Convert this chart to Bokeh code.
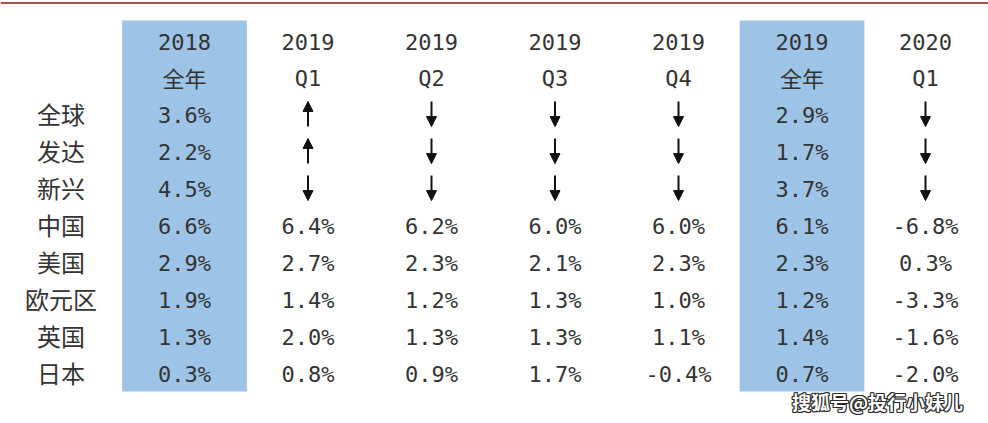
from bokeh.plotting import figure
from bokeh.models import Range1d, ColumnDataSource, Label, Span, Arrow, NormalHead
from bokeh.core.properties import value
from bokeh.embed import file_html
from bokeh.resources import INLINE

# ---------------- data ----------------
regions = ["全球", "发达", "新兴", "中国", "美国", "欧元区", "英国", "日本"]
head_year = ["2018", "2019", "2019", "2019", "2019", "2019", "2020"]
head_period = ["全年", "Q1", "Q2", "Q3", "Q4", "全年", "Q1"]
full_2018 = [3.6, 2.2, 4.5, 6.6, 2.9, 1.9, 1.3, 0.3]
q1_2019 = ["up", "up", "down", 6.4, 2.7, 1.4, 2.0, 0.8]
q2_2019 = ["down", "down", "down", 6.2, 2.3, 1.2, 1.3, 0.9]
q3_2019 = ["down", "down", "down", 6.0, 2.1, 1.3, 1.3, 1.7]
q4_2019 = ["down", "down", "down", 6.0, 2.3, 1.0, 1.1, -0.4]
full_2019 = [2.9, 1.7, 3.7, 6.1, 2.3, 1.2, 1.4, 0.7]
q1_2020 = ["down", "down", "down", -6.8, 0.3, -3.3, -1.6, -2.0]
columns = [full_2018, q1_2019, q2_2019, q3_2019, q4_2019, full_2019, q1_2020]
highlight_cols = [1, 6]   # 2018全年, 2019全年
watermark = "搜狐号@投行小妹儿"

# ---------------- layout ----------------
W, H = 988, 423
OX, OY = 0, 0
col_px, row_px = 123.5, 37.0
x0 = -(60.5 - OX) / col_px
x1 = x0 + W / col_px
ytop = -(115 - OY) / row_px
ybot = ytop + H / row_px

p = figure(width=W, height=H, x_range=Range1d(x0, x1), y_range=Range1d(ybot, ytop),
           output_backend="svg", toolbar_location=None, min_border=0,
           x_axis_location=None, y_axis_location=None,
           background_fill_color="white", border_fill_color="white")
p.grid.visible = False
p.outline_line_color = None

TXT = "#333333"
MONO = "DejaVu Sans Mono"
CJK = "Noto Sans CJK SC"
n = len(regions)

# highlighted columns
p.quad(left=[c - 0.505 for c in highlight_cols], right=[c + 0.505 for c in highlight_cols],
       top=[-2.57] * len(highlight_cols), bottom=[n - 1 + 0.46] * len(highlight_cols),
       fill_color="#9dc3e6", line_color=None)

# top red rule
p.add_layout(Span(location=ytop + 2.5 / row_px, dimension="width", line_color="#a05252", line_width=2))

# header
hx, hy, ht, hf, ho = [], [], [], [], []
for i, (yr, per) in enumerate(zip(head_year, head_period)):
    cjk = any(ord(ch) > 127 for ch in per)
    hx += [i + 1, i + 1]
    hy += [-2, -1]
    ht += [yr, per]
    hf += [MONO, CJK if cjk else MONO]
    ho += [0, -2 if cjk else 0]
p.text(x="x", y="y", text="t", text_font="f", y_offset="o",
       source=ColumnDataSource(dict(x=hx, y=hy, t=ht, f=hf, o=ho)),
       text_align="center", text_baseline="middle", text_font_size="22px", text_color=TXT)

# row labels
p.text(x=[0] * n, y=list(range(n)), text=regions, text_font=value(CJK), y_offset=-2,
       text_align="center", text_baseline="middle", text_font_size="24px", text_color=TXT)

# values and arrows
vx, vy, vt = [], [], []
ax, ays, aye = [], [], []
for ci, col in enumerate(columns):
    for r, v in enumerate(col):
        if isinstance(v, str):
            ax.append(ci + 1)
            if v == "up":
                ays.append(r + 0.30); aye.append(r - 0.38)
            else:
                ays.append(r - 0.38); aye.append(r + 0.30)
        else:
            vx.append(ci + 1); vy.append(r); vt.append(f"{v:.1f}%")
p.text(x=vx, y=vy, text=vt, text_font=value(MONO), text_align="center",
       text_baseline="middle", text_font_size="22px", text_color=TXT)
asrc = ColumnDataSource(dict(x=ax, ys=ays, ye=aye))
p.add_layout(Arrow(end=NormalHead(size=10, fill_color="#111111", line_color="#111111"),
                   x_start="x", y_start="ys", x_end="x", y_end="ye", source=asrc,
                   line_width=2, line_color="#111111"))

# watermark (white text with dark outline)
WX, WY = 877, H - 401
for dx, dy in [(-1, -1), (-1, 1), (1, -1), (1, 1), (0, -1), (0, 1), (-1, 0), (1, 0)]:
    p.add_layout(Label(x=WX, y=WY, x_units="screen", y_units="screen", text=watermark,
                       x_offset=dx, y_offset=dy, text_align="center", text_baseline="middle",
                       text_font=CJK, text_font_size="19px", text_font_style="bold",
                       text_color="#2a2a2a"))
p.add_layout(Label(x=WX, y=WY, x_units="screen", y_units="screen", text=watermark,
                   text_align="center", text_baseline="middle",
                   text_font=CJK, text_font_size="19px", text_font_style="bold",
                   text_color="white"))

open("out.html", "w").write(file_html(p, INLINE))
